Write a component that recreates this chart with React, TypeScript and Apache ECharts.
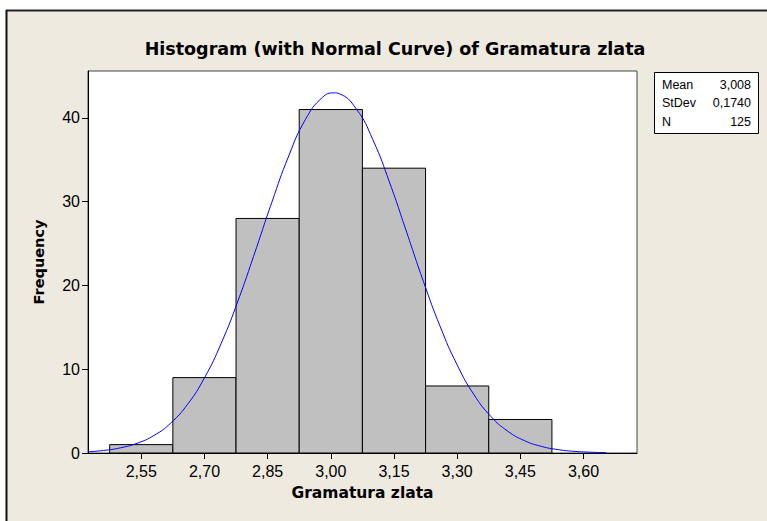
import React, { useEffect, useRef } from "react";
import * as echarts from "echarts";

const binCenters = [2.55, 2.7, 2.85, 3.0, 3.15, 3.3, 3.45];
const counts = [1, 9, 28, 41, 34, 8, 4];
const binWidth = 0.15;
const xTicks = [2.55, 2.7, 2.85, 3.0, 3.15, 3.3, 3.45, 3.6];
const yTicks = [0, 10, 20, 30, 40];
const curveX = [2.4235, 2.46, 2.5, 2.54, 2.58, 2.62, 2.66, 2.7, 2.74, 2.78, 2.82, 2.86, 2.9, 2.94, 2.98, 3.008, 3.02, 3.06, 3.1, 3.14, 3.18, 3.22, 3.26, 3.3, 3.34, 3.38, 3.42, 3.46, 3.5, 3.54, 3.58, 3.62, 3.655];
const curveY = [0.15, 0.3, 0.61, 1.16, 2.09, 3.58, 5.82, 8.97, 13.12, 18.22, 23.98, 29.93, 35.45, 39.83, 42.44, 42.99, 42.89, 41.11, 37.38, 32.23, 26.37, 20.46, 15.06, 10.51, 6.96, 4.37, 2.61, 1.47, 0.79, 0.4, 0.19, 0.09, 0.04];
const statLabels = ["Mean", "StDev", "N"];
const statValues = ["3,008", "0,1740", "125"];

const FONT = "'Liberation Sans', Arial, sans-serif";
const BOLD_FONT = "'DejaVu Sans', Verdana, sans-serif";

export default function App() {
  const ref = useRef<HTMLDivElement>(null);
  useEffect(() => {
    document.body.style.margin = "0";
    const chart = echarts.init(ref.current!, null, { renderer: "svg" });
    const fmt = (v: number) => v.toFixed(2).replace(".", ",");
    const statsGraphics: any[] = [
      {
        type: "rect",
        shape: { x: 654.5, y: 72.5, width: 104, height: 61 },
        style: { fill: "#fff", stroke: "#000", lineWidth: 1 },
        z: 10,
      },
    ];
    statLabels.forEach((l, i) => {
      statsGraphics.push({
        type: "text",
        x: 662,
        y: 85 + i * 18.3,
        style: { text: l, font: `12.5px ${FONT}`, fill: "#000", verticalAlign: "middle", align: "left" },
        z: 11,
      });
      statsGraphics.push({
        type: "text",
        x: 751,
        y: 85 + i * 18.3,
        style: { text: statValues[i], font: `12.5px ${FONT}`, fill: "#000", verticalAlign: "middle", align: "right" },
        z: 11,
      });
    });
    chart.setOption({
      animation: false,
      backgroundColor: "#fff",
      textStyle: { fontFamily: FONT },
      title: {
        text: "Histogram (with Normal Curve) of Gramatura zlata",
        left: 390,
        textAlign: "center",
        top: 35,
        textStyle: { fontFamily: BOLD_FONT, fontSize: 17.5, fontWeight: "bold", color: "#000" },
      },
      graphic: [
        {
          type: "rect",
          shape: { x: 6, y: 10, width: 761, height: 511 },
          style: { fill: "#EEEAE0" },
          z: -10,
          silent: true,
        },
        {
          type: "line",
          shape: { x1: 6, y1: 10.5, x2: 767, y2: 10.5 },
          style: { stroke: "#222", lineWidth: 2 },
          z: -9,
        },
        {
          type: "line",
          shape: { x1: 6.5, y1: 10, x2: 6.5, y2: 521 },
          style: { stroke: "#111", lineWidth: 2 },
          z: -9,
        },
        ...statsGraphics,
      ],
      grid: {
        left: 88,
        right: 130,
        top: 71,
        bottom: 68,
        show: true,
        backgroundColor: "#fff",
        borderColor: "#444",
        borderWidth: 1,
      },
      xAxis: {
        type: "value",
        min: 2.4235,
        max: 3.727,
        name: "Gramatura zlata",
        nameLocation: "middle",
        nameGap: 32,
        nameTextStyle: { fontFamily: BOLD_FONT, fontSize: 15.5, fontWeight: "bold", color: "#000" },
        axisLine: { show: true, lineStyle: { color: "#000", width: 1 } },
        axisTick: { show: true, length: 6, lineStyle: { color: "#000" }, customValues: xTicks },
        axisLabel: {
          customValues: xTicks,
          formatter: (v: number) => fmt(v),
          fontFamily: FONT,
          fontSize: 16,
          color: "#000",
          margin: 10,
        },
        splitLine: { show: false },
      },
      yAxis: {
        type: "value",
        min: 0,
        max: 45.6,
        name: "Frequency",
        nameLocation: "middle",
        nameGap: 42,
        nameTextStyle: { fontFamily: BOLD_FONT, fontSize: 14.5, fontWeight: "bold", color: "#000" },
        axisLine: { show: true, lineStyle: { color: "#000", width: 1 } },
        axisTick: { show: true, length: 6, lineStyle: { color: "#000" }, customValues: yTicks },
        axisLabel: {
          customValues: yTicks,
          fontFamily: FONT,
          fontSize: 16,
          color: "#000",
          margin: 8,
        },
        splitLine: { show: false },
      },
      series: [
        {
          type: "custom",
          data: binCenters.map((c, i) => [c, counts[i]]),
          renderItem: (params: any, api: any) => {
            const c = api.value(0);
            const h = api.value(1);
            const p0 = api.coord([c - binWidth / 2, h]);
            const p1 = api.coord([c + binWidth / 2, 0]);
            return {
              type: "rect",
              shape: { x: p0[0], y: p0[1], width: p1[0] - p0[0], height: p1[1] - p0[1] },
              style: { fill: "#C0C0C0", stroke: "#000", lineWidth: 1 },
            };
          },
          z: 2,
        },
        {
          type: "line",
          data: curveX.map((x, i) => [x, curveY[i]]),
          smooth: true,
          symbol: "none",
          lineStyle: { color: "#0000FF", width: 1 },
          z: 3,
        },
      ],
    });
    return () => chart.dispose();
  }, []);
  return <div ref={ref} style={{ width: 767, height: 521 }} />;
}
